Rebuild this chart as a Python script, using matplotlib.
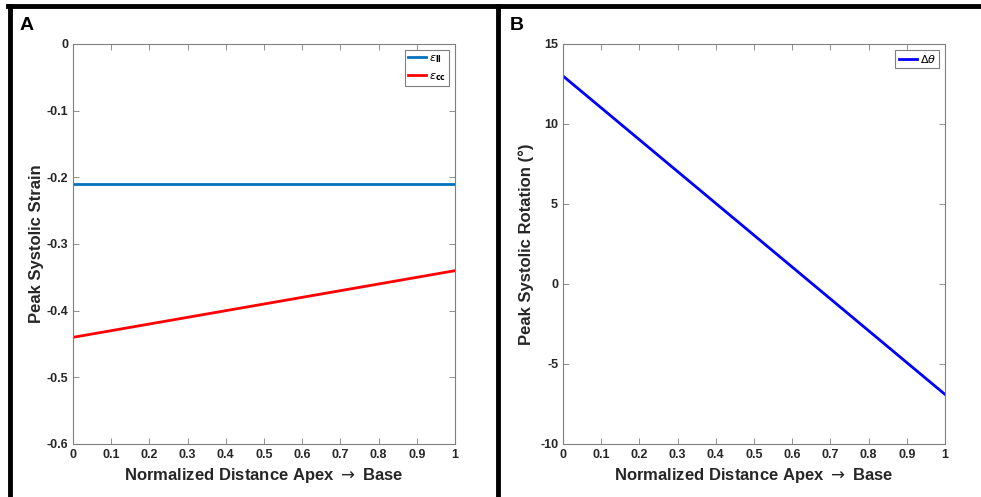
import matplotlib.pyplot as plt
from matplotlib.lines import Line2D

# data
x_pos = [0, 1]
strain_ll = [-0.21, -0.21]
strain_cc = [-0.44, -0.34]
rotation = [13.0, -6.9]

x_ticks = [0, 0.1, 0.2, 0.3, 0.4, 0.5, 0.6, 0.7, 0.8, 0.9, 1]
x_ticklabels = ["0", "0.1", "0.2", "0.3", "0.4", "0.5", "0.6", "0.7", "0.8", "0.9", "1"]
strain_ticks = [0, -0.1, -0.2, -0.3, -0.4, -0.5, -0.6]
rot_ticks = [15, 10, 5, 0, -5, -10]

plt.rcParams["font.family"] = ["Liberation Sans", "DejaVu Sans"]
plt.rcParams["mathtext.fontset"] = "dejavusans"
plt.rcParams["axes.unicode_minus"] = False

fig = plt.figure(figsize=(9.81, 4.97), dpi=100)
W, H = 981, 497

axc = "#7f7f7f"
txtc = "#262626"


def style(ax):
    for s in ax.spines.values():
        s.set_color(axc)
        s.set_linewidth(0.8)
    ax.tick_params(direction="in", top=True, right=True, colors=axc,
                   labelcolor=txtc, labelsize=9, length=4, width=0.6)
    for lab in ax.get_xticklabels() + ax.get_yticklabels():
        lab.set_fontweight("bold")


# panel A
axA = fig.add_axes([73 / W, 53 / H, 382 / W, 400 / H])
axA.plot(x_pos, strain_ll, color="#0072BD", lw=2, label=r"$\epsilon_{\mathbf{ll}}$")
axA.plot(x_pos, strain_cc, color="#FF0000", lw=2, label=r"$\epsilon_{\mathbf{cc}}$")
axA.set_xlim(0, 1)
axA.set_ylim(-0.6, 0)
axA.set_xticks(x_ticks)
axA.set_xticklabels(x_ticklabels)
axA.set_yticks(strain_ticks)
axA.set_yticklabels(["0", "-0.1", "-0.2", "-0.3", "-0.4", "-0.5", "-0.6"])
axA.set_xlabel(r"Normalized Distance Apex $\rightarrow$ Base", fontsize=12,
               fontweight="bold", color=txtc)
axA.set_ylabel("Peak Systolic Strain", fontsize=12, fontweight="bold", color=txtc,
               labelpad=2)
style(axA)
legA = axA.legend(loc="upper right", fontsize=8, handlelength=1.6, handletextpad=0.3,
                  borderpad=0.3, labelspacing=0.6, fancybox=False, framealpha=1,
                  borderaxespad=0.5)
legA.get_frame().set_edgecolor(axc)
legA.get_frame().set_linewidth(0.8)

# panel B
axB = fig.add_axes([563 / W, 53 / H, 382 / W, 400 / H])
axB.plot(x_pos, rotation, color="#0000FF", lw=2, label=r"$\Delta\theta$")
axB.set_xlim(0, 1)
axB.set_ylim(-10, 15)
axB.set_xticks(x_ticks)
axB.set_xticklabels(x_ticklabels)
axB.set_yticks(rot_ticks)
axB.set_xlabel(r"Normalized Distance Apex $\rightarrow$ Base", fontsize=12,
               fontweight="bold", color=txtc)
axB.set_ylabel("Peak Systolic Rotation (°)", fontsize=12, fontweight="bold", color=txtc,
               labelpad=4)
style(axB)
legB = axB.legend(loc="upper right", fontsize=8, handlelength=1.6, handletextpad=0.3,
                  borderpad=0.3, fancybox=False, framealpha=1, borderaxespad=0.5)
legB.get_frame().set_edgecolor(axc)
legB.get_frame().set_linewidth(0.8)

# panel frames
fig.add_artist(Line2D([8 / W, 1], [1 - 6 / H, 1 - 6 / H], color="black", lw=3.5))
fig.add_artist(Line2D([10 / W, 10 / W], [0, 1 - 6 / H], color="black", lw=3.5))
fig.add_artist(Line2D([498 / W, 498 / W], [0, 1 - 6 / H], color="black", lw=3.5))

fig.text(20 / W, 1 - 26 / H, "A", fontsize=14, fontweight="bold", va="center")
fig.text(510 / W, 1 - 26 / H, "B", fontsize=14, fontweight="bold", va="center")

fig.savefig("out.png", dpi=100, facecolor="white")
